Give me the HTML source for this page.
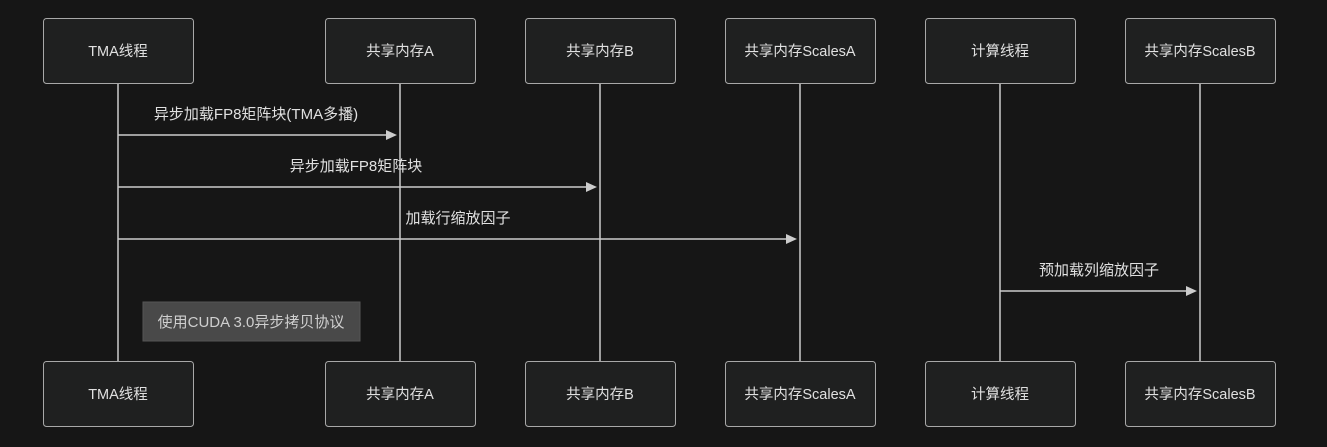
<!DOCTYPE html>
<html><head><meta charset="utf-8"><style>
html,body{margin:0;padding:0;background:#161616;}
svg{display:block;}
text{font-family:"Liberation Sans","Noto Sans CJK SC",sans-serif;font-size:14.5px;fill:#e0e0e0;}
.m{font-size:15px;}
</style></head><body>
<svg width="1327" height="447" viewBox="0 0 1327 447" xmlns="http://www.w3.org/2000/svg">
<rect width="1327" height="447" fill="#161616"/>
<g stroke="#cccccc" stroke-width="1.5">
<line x1="118" y1="83" x2="118" y2="361"/>
<line x1="400" y1="83" x2="400" y2="361"/>
<line x1="600" y1="83" x2="600" y2="361"/>
<line x1="800" y1="83" x2="800" y2="361"/>
<line x1="1000" y1="83" x2="1000" y2="361"/>
<line x1="1200" y1="83" x2="1200" y2="361"/>
</g>
<g fill="#1f2020" stroke="#a8a8a8" stroke-width="1">
<rect x="43.5" y="18.5" width="150" height="65" rx="3"/>
<rect x="325.5" y="18.5" width="150" height="65" rx="3"/>
<rect x="525.5" y="18.5" width="150" height="65" rx="3"/>
<rect x="725.5" y="18.5" width="150" height="65" rx="3"/>
<rect x="925.5" y="18.5" width="150" height="65" rx="3"/>
<rect x="1125.5" y="18.5" width="150" height="65" rx="3"/>
<rect x="43.5" y="361.5" width="150" height="65" rx="3"/>
<rect x="325.5" y="361.5" width="150" height="65" rx="3"/>
<rect x="525.5" y="361.5" width="150" height="65" rx="3"/>
<rect x="725.5" y="361.5" width="150" height="65" rx="3"/>
<rect x="925.5" y="361.5" width="150" height="65" rx="3"/>
<rect x="1125.5" y="361.5" width="150" height="65" rx="3"/>
</g>
<g text-anchor="middle">
<text x="118" y="56">TMA线程</text>
<text x="400" y="56">共享内存A</text>
<text x="600" y="56">共享内存B</text>
<text x="800" y="56">共享内存ScalesA</text>
<text x="1000" y="56">计算线程</text>
<text x="1200" y="56">共享内存ScalesB</text>
<text x="118" y="399">TMA线程</text>
<text x="400" y="399">共享内存A</text>
<text x="600" y="399">共享内存B</text>
<text x="800" y="399">共享内存ScalesA</text>
<text x="1000" y="399">计算线程</text>
<text x="1200" y="399">共享内存ScalesB</text>
<text class="m" x="256" y="119">异步加载FP8矩阵块(TMA多播)</text>
<text class="m" x="356" y="171">异步加载FP8矩阵块</text>
<text class="m" x="458" y="223">加载行缩放因子</text>
<text class="m" x="1099" y="275">预加载列缩放因子</text>
</g>
<g stroke="#cccccc" stroke-width="1.5">
<line x1="118" y1="135" x2="388" y2="135"/>
<line x1="118" y1="187" x2="588" y2="187"/>
<line x1="118" y1="239" x2="788" y2="239"/>
<line x1="1000" y1="291" x2="1188" y2="291"/>
</g>
<g fill="#cccccc">
<path d="M397,135 L386,130 L386,140Z"/>
<path d="M597,187 L586,182 L586,192Z"/>
<path d="M797,239 L786,234 L786,244Z"/>
<path d="M1197,291 L1186,286 L1186,296Z"/>
</g>
<rect x="143" y="302" width="217" height="39" fill="#494949" stroke="#555" stroke-width="1"/>
<text class="m" x="251" y="327" text-anchor="middle" style="fill:#cfcfcf">使用CUDA 3.0异步拷贝协议</text>
</svg>
</body></html>
